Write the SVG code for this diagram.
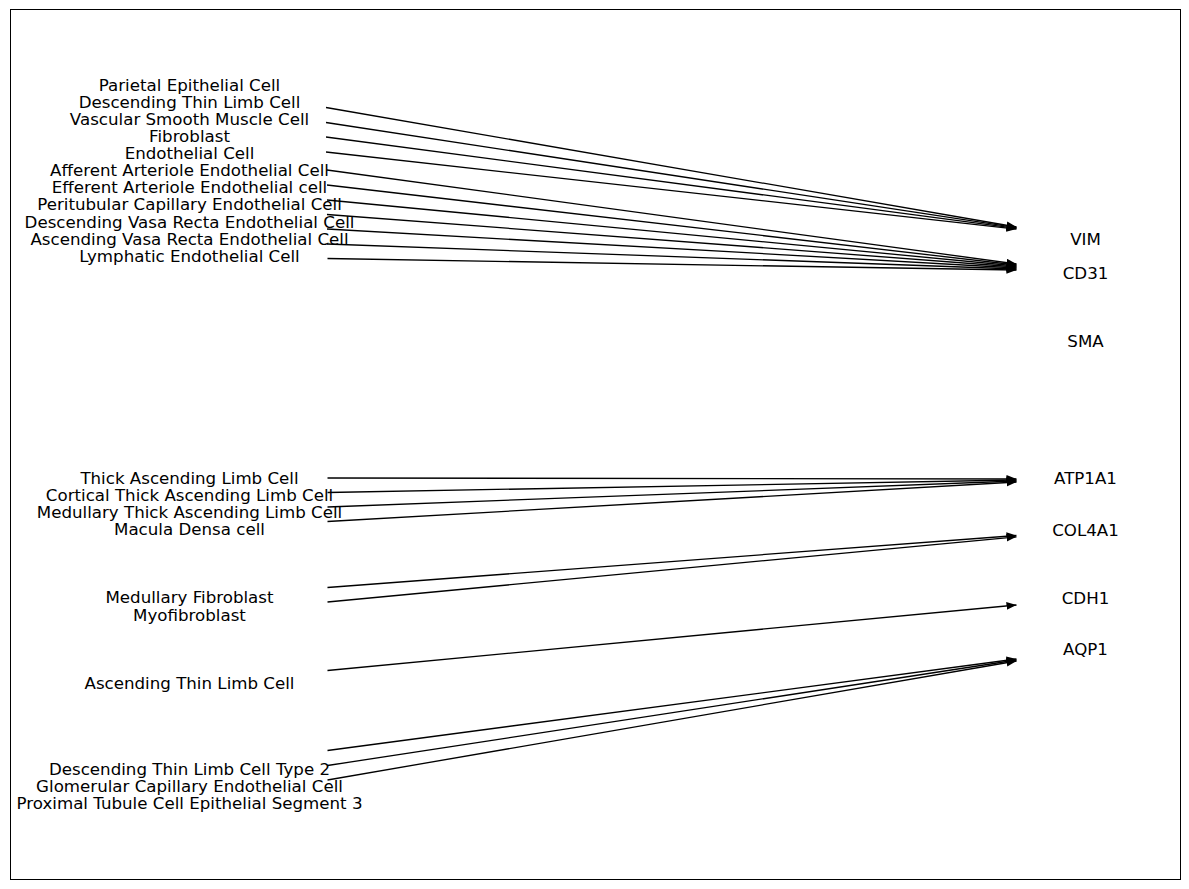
<svg xmlns="http://www.w3.org/2000/svg" width="1189" height="889" viewBox="0 0 1189 889">
<defs>
<style>
text{font-family:"DejaVu Sans",sans-serif;font-size:16.67px;fill:#000;text-anchor:middle}
.c line{stroke:#000;stroke-width:1.3;fill:none;marker-end:url(#ah)}
</style>
<marker id="ah" markerUnits="userSpaceOnUse" markerWidth="10" markerHeight="8" viewBox="0 0 9 7" refX="9" refY="3.5" orient="auto">
<path d="M0,0 L9,3.5 L0,7 z" fill="#000"/>
</marker>
</defs>
<rect x="0" y="0" width="1189" height="889" fill="#fff"/>
<rect x="10.5" y="9.5" width="1170" height="870" fill="none" stroke="#000" stroke-width="1"/>
<g id="sources">
<g id="n-parietal"><text x="189.5" y="90.7">Parietal Epithelial Cell</text></g>
<g id="n-dtl"><text x="189.5" y="107.8">Descending Thin Limb Cell</text></g>
<g id="n-vsmc"><text x="189.5" y="124.9">Vascular Smooth Muscle Cell</text></g>
<g id="n-fib"><text x="189.5" y="142">Fibroblast</text></g>
<g id="n-endo"><text x="189.5" y="159.1">Endothelial Cell</text></g>
<g id="n-aaec"><text x="189.5" y="176.2">Afferent Arteriole Endothelial Cell</text></g>
<g id="n-eaec"><text x="189.5" y="193.3">Efferent Arteriole Endothelial cell</text></g>
<g id="n-ptc"><text x="189.5" y="210.4">Peritubular Capillary Endothelial Cell</text></g>
<g id="n-dvr"><text x="189.5" y="227.5">Descending Vasa Recta Endothelial Cell</text></g>
<g id="n-avr"><text x="189.5" y="244.6">Ascending Vasa Recta Endothelial Cell</text></g>
<g id="n-lymph"><text x="189.5" y="261.7">Lymphatic Endothelial Cell</text></g>
<g id="n-tal"><text x="189.5" y="483.7">Thick Ascending Limb Cell</text></g>
<g id="n-ctal"><text x="189.5" y="500.8">Cortical Thick Ascending Limb Cell</text></g>
<g id="n-mtal"><text x="189.5" y="517.9">Medullary Thick Ascending Limb Cell</text></g>
<g id="n-md"><text x="189.5" y="535">Macula Densa cell</text></g>
<g id="n-mfib"><text x="189.5" y="603.4">Medullary Fibroblast</text></g>
<g id="n-myo"><text x="189.5" y="620.5">Myofibroblast</text></g>
<g id="n-atl"><text x="189.5" y="689.3">Ascending Thin Limb Cell</text></g>
<g id="n-dtl2"><text x="189.5" y="774.6">Descending Thin Limb Cell Type 2</text></g>
<g id="n-gcec"><text x="189.5" y="791.7">Glomerular Capillary Endothelial Cell</text></g>
<g id="n-pt3"><text x="189.5" y="808.8">Proximal Tubule Cell Epithelial Segment 3</text></g>
</g>
<g id="targets">
<g id="t-vim"><text x="1085.5" y="245">VIM</text></g>
<g id="t-cd31"><text x="1085.5" y="279">CD31</text></g>
<g id="t-sma"><text x="1085.5" y="347">SMA</text></g>
<g id="t-atp1a1"><text x="1085.5" y="484">ATP1A1</text></g>
<g id="t-col4a1"><text x="1085.5" y="536">COL4A1</text></g>
<g id="t-cdh1"><text x="1085.5" y="604">CDH1</text></g>
<g id="t-aqp1"><text x="1085.5" y="655">AQP1</text></g>
</g>
<g id="connectors" class="c">
<line x1="326" y1="107.5" x2="1016.5" y2="227"/>
<line x1="326" y1="122.5" x2="1016.5" y2="227.7"/>
<line x1="326" y1="137" x2="1016.5" y2="228.4"/>
<line x1="326" y1="152" x2="1016.5" y2="229.1"/>
<line x1="327" y1="170" x2="1016.5" y2="264"/>
<line x1="327" y1="185" x2="1016.5" y2="265"/>
<line x1="327" y1="200" x2="1016.5" y2="266"/>
<line x1="327" y1="214.5" x2="1016.5" y2="267"/>
<line x1="327" y1="229" x2="1016.5" y2="268"/>
<line x1="327" y1="244" x2="1016.5" y2="269"/>
<line x1="327.5" y1="258.5" x2="1016.5" y2="270"/>
<line x1="327.5" y1="478" x2="1016.5" y2="479"/>
<line x1="327.5" y1="492.5" x2="1016.5" y2="480"/>
<line x1="327.5" y1="507" x2="1016.5" y2="481"/>
<line x1="327.5" y1="521.5" x2="1016.5" y2="482"/>
<line x1="327.5" y1="587.5" x2="1016.5" y2="535.5"/>
<line x1="327.5" y1="602" x2="1016.5" y2="536.8"/>
<line x1="327.5" y1="670.5" x2="1016.5" y2="605"/>
<line x1="327.5" y1="750.5" x2="1016.5" y2="659"/>
<line x1="327.5" y1="765.5" x2="1016.5" y2="660"/>
<line x1="327.5" y1="780" x2="1016.5" y2="661"/>
</g>
</svg>
